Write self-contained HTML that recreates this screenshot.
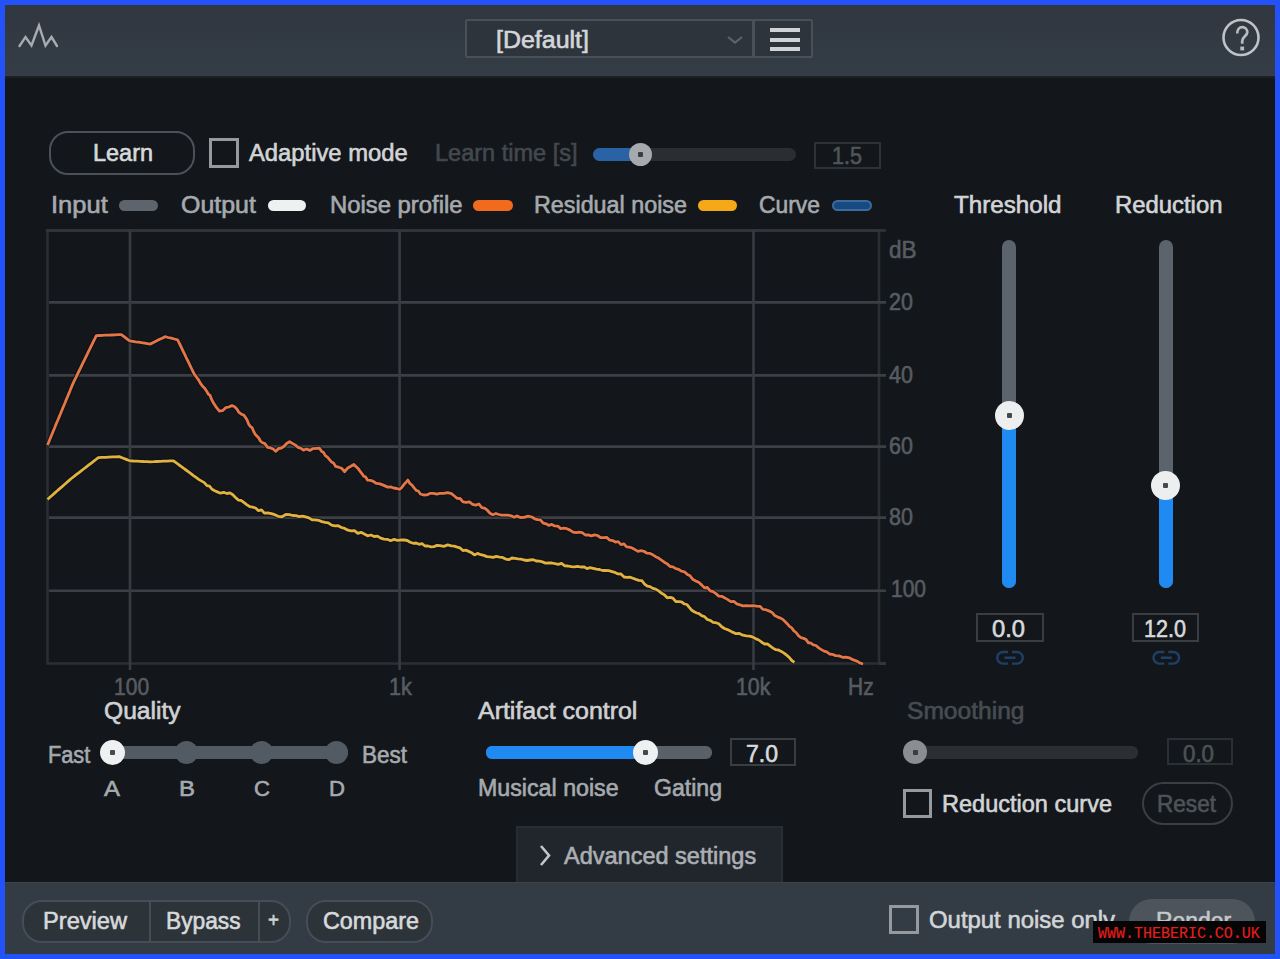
<!DOCTYPE html>
<html><head><meta charset="utf-8"><style>
html,body{margin:0;padding:0;width:1280px;height:959px;overflow:hidden;background:#2252f8}
#app{position:absolute;left:5px;top:5px;width:1270px;height:949px;background:#13171b;overflow:hidden}
.abs{position:absolute;box-sizing:content-box}
.t{position:absolute;white-space:nowrap;line-height:1;font-family:"Liberation Sans",sans-serif;transform-origin:0 0;-webkit-text-stroke:0.6px currentColor}
.knob{border-radius:50%}
.pill{border-radius:6px}
#hdr{position:absolute;left:0;top:0;width:1280px;height:75px;background:linear-gradient(#30363e,#343d47);border-bottom:1px solid #3a3d43}
#hdr:after{content:"";position:absolute;left:0;top:76px;width:1280px;height:3px;background:linear-gradient(#1f2328,#13171b)}
#ftr{position:absolute;left:0;top:882px;width:1280px;height:72px;background:#333b44;border-top:1px solid #3d4249}
</style></head><body>
<div id="root" style="position:absolute;left:0;top:0;width:1280px;height:959px;">
<div style="position:absolute;left:5px;top:5px;width:1270px;height:949px;background:#13171b"></div>
<div id="hdr"></div>
<svg class="abs" style="left:0;top:0" width="80" height="76"><polyline points="19.5,46 25.5,37 31.5,45.5 39,25.5 45.5,45.5 51.5,37 57,46" fill="none" stroke="#a6acb2" stroke-width="2.4" stroke-linejoin="miter" stroke-linecap="round"/></svg>
<div class="abs" style="left:465px;top:19px;width:344px;height:35px;border:2.5px solid #48505a;background:#2d343c;border-radius:2px"></div>
<div class="abs" style="left:752px;top:21px;width:2.5px;height:35px;background:#48505a"></div>
<div class="t" style="left:496.00px;top:28.83px;font-size:23px;color:#d4d6d9;font-weight:normal;transform:scaleX(1.0852);">[Default]</div>
<svg class="abs" style="left:720px;top:30px" width="30" height="20"><polyline points="8,7 15,12.5 22,7" fill="none" stroke="#5d636b" stroke-width="2.2"/></svg>
<div class="abs" style="left:770px;top:27.6px;width:30px;height:4px;background:#cfd2d6"></div>
<div class="abs" style="left:770px;top:37.5px;width:30px;height:4px;background:#cfd2d6"></div>
<div class="abs" style="left:770px;top:46.6px;width:30px;height:4px;background:#cfd2d6"></div>
<svg class="abs" style="left:1215px;top:12px" width="52" height="52"><circle cx="26" cy="25.5" r="17.5" fill="none" stroke="#bfc3c8" stroke-width="2.6"/></svg>
<svg class="abs" style="left:0;top:0" width="1280" height="80"><path d="M1237.2,33.5 C1237.2,29.5 1239.5,27.2 1242.2,27.2 C1245.2,27.2 1247.3,29.3 1247.3,32.3 C1247.3,35.8 1242.2,37 1242.2,41 L1242.2,43.8" fill="none" stroke="#b8bcc1" stroke-width="2.7"/><rect x="1240.3" y="46.6" width="3.8" height="3.8" fill="#b8bcc1"/></svg>
<div class="abs" style="left:49px;top:130.5px;width:142px;height:40px;border:2.5px solid #4c5157;border-radius:19px"></div>
<div class="t" style="left:93.00px;top:141.53px;font-size:23px;color:#d7d9db;font-weight:normal;transform:scaleX(1.0204);">Learn</div>
<div class="abs" style="left:209px;top:138px;width:24px;height:24px;border:3px solid #969a9e"></div>
<div class="t" style="left:249.00px;top:141.53px;font-size:23px;color:#d2d4d6;font-weight:normal;transform:scaleX(1.0339);">Adaptive mode</div>
<div class="t" style="left:435.00px;top:141.53px;font-size:23px;color:#43484e;font-weight:normal;transform:scaleX(1.0230);">Learn time [s]</div>
<div class="abs" style="left:593px;top:148px;width:203px;height:13px;border-radius:7px;background:#2a2e33"></div>
<div class="abs" style="left:593px;top:148px;width:50px;height:13px;border-radius:7px;background:#2a62a6"></div>
<div class="abs knob" style="left:628.5px;top:142.5px;width:23px;height:23px;background:#a6a9ad"></div>
<div class="abs" style="left:637.5px;top:151.5px;width:5px;height:5px;background:#3a3d42;border-radius:1px"></div>
<div class="abs" style="left:814px;top:142px;width:63px;height:23px;border:2px solid #2e3237"></div>
<div class="t" style="left:832.00px;top:144.53px;font-size:23px;color:#50555a;font-weight:normal;transform:scaleX(0.9375);">1.5</div>
<div class="t" style="left:50.70px;top:193.93px;font-size:23px;color:#a6aaae;font-weight:normal;transform:scaleX(1.1094);">Input</div>
<div class="abs pill" style="left:119px;top:200px;width:39px;height:11px;background:#5e646b"></div>
<div class="t" style="left:180.80px;top:193.93px;font-size:23px;color:#a6aaae;font-weight:normal;transform:scaleX(1.0841);">Output</div>
<div class="abs pill" style="left:267.5px;top:200px;width:38px;height:11px;background:#eef0f2"></div>
<div class="t" style="left:329.80px;top:193.93px;font-size:23px;color:#a6aaae;font-weight:normal;transform:scaleX(1.0368);">Noise profile</div>
<div class="abs pill" style="left:472.5px;top:200px;width:40px;height:11px;background:#f26a1b"></div>
<div class="t" style="left:534.00px;top:193.93px;font-size:23px;color:#a6aaae;font-weight:normal;transform:scaleX(1.0139);">Residual noise</div>
<div class="abs pill" style="left:698px;top:200px;width:39px;height:11px;background:#f5a916"></div>
<div class="t" style="left:759.00px;top:193.93px;font-size:23px;color:#a6aaae;font-weight:normal;transform:scaleX(0.9935);">Curve</div>
<div class="abs pill" style="left:832px;top:199.5px;width:36px;height:7px;border:2px solid #3c6b9c;background:#164a80"></div>
<div class="t" style="left:954.00px;top:193.53px;font-size:23px;color:#d2d4d6;font-weight:normal;transform:scaleX(1.0508);">Threshold</div>
<div class="t" style="left:1115.00px;top:193.53px;font-size:23px;color:#d2d4d6;font-weight:normal;transform:scaleX(1.0376);">Reduction</div>
<div class="abs" style="left:1002.3px;top:240px;width:14px;height:348px;border-radius:7px;background:#5b636d"></div>
<div class="abs" style="left:1002.3px;top:415.5px;width:14px;height:172.5px;border-radius:0 0 7px 7px;background:#1f8af2"></div>
<div class="abs knob" style="left:994.8px;top:401.0px;width:29px;height:29px;background:#eceef0"></div>
<div class="abs" style="left:1006.8px;top:413.0px;width:5px;height:5px;background:#45484c;border-radius:1px"></div>
<svg class="abs" style="left:0;top:0" width="1280" height="700"><path d="M1008.0,652 H1003.0 A5.8,5.8 0 0 0 1003.0,663.6 H1008.0 M1012.0,652 H1017.0 A5.8,5.8 0 0 1 1017.0,663.6 H1012.0 M1004.5,657.8 H1015.5" fill="none" stroke="#1f4064" stroke-width="2.4"/></svg>
<div class="abs" style="left:1158.6px;top:240px;width:14px;height:348px;border-radius:7px;background:#5b636d"></div>
<div class="abs" style="left:1158.6px;top:485.2px;width:14px;height:102.8px;border-radius:0 0 7px 7px;background:#1f8af2"></div>
<div class="abs knob" style="left:1151.1px;top:470.7px;width:29px;height:29px;background:#eceef0"></div>
<div class="abs" style="left:1163.1px;top:482.7px;width:5px;height:5px;background:#45484c;border-radius:1px"></div>
<svg class="abs" style="left:0;top:0" width="1280" height="700"><path d="M1164.3,652 H1159.3 A5.8,5.8 0 0 0 1159.3,663.6 H1164.3 M1168.3,652 H1173.3 A5.8,5.8 0 0 1 1173.3,663.6 H1168.3 M1160.8,657.8 H1171.8" fill="none" stroke="#1f4064" stroke-width="2.4"/></svg>
<div class="abs" style="left:976px;top:613px;width:64px;height:25px;border:2px solid #3a3e43"></div>
<div class="t" style="left:992.00px;top:617.53px;font-size:23px;color:#d8dadc;font-weight:normal;transform:scaleX(1.0312);">0.0</div>
<div class="abs" style="left:1131.5px;top:613px;width:63px;height:25px;border:2px solid #3a3e43"></div>
<div class="t" style="left:1144.00px;top:617.53px;font-size:23px;color:#d8dadc;font-weight:normal;transform:scaleX(0.9375);">12.0</div>
<div class="t" style="left:104.00px;top:700.03px;font-size:23px;color:#cfd1d3;font-weight:normal;transform:scaleX(1.0698);">Quality</div>
<div class="t" style="left:47.80px;top:743.53px;font-size:23px;color:#a6aaae;font-weight:normal;transform:scaleX(0.9441);">Fast</div>
<div class="t" style="left:362.00px;top:743.53px;font-size:23px;color:#a6aaae;font-weight:normal;transform:scaleX(0.9783);">Best</div>
<div class="abs" style="left:112px;top:746px;width:236px;height:13px;background:#525a63;border-radius:6px"></div>
<div class="abs knob" style="left:175.4px;top:741px;width:23px;height:23px;background:#525a63"></div>
<div class="abs knob" style="left:250.4px;top:741px;width:23px;height:23px;background:#525a63"></div>
<div class="abs knob" style="left:325.4px;top:741px;width:23px;height:23px;background:#525a63"></div>
<div class="abs knob" style="left:100px;top:740px;width:25px;height:25px;background:#eef0f2"></div>
<div class="abs" style="left:110px;top:750px;width:5px;height:5px;background:#45484c;border-radius:1px"></div>
<div class="t" style="left:104.00px;top:778.38px;font-size:22px;color:#a6aaae;font-weight:normal;transform:scaleX(1.0884);">A</div>
<div class="t" style="left:179.00px;top:778.38px;font-size:22px;color:#a6aaae;font-weight:normal;transform:scaleX(1.0884);">B</div>
<div class="t" style="left:254.00px;top:778.38px;font-size:22px;color:#a6aaae;font-weight:normal;transform:scaleX(1.0063);">C</div>
<div class="t" style="left:329.00px;top:778.38px;font-size:22px;color:#a6aaae;font-weight:normal;transform:scaleX(1.0063);">D</div>
<div class="t" style="left:478.30px;top:699.53px;font-size:23px;color:#cfd1d3;font-weight:normal;transform:scaleX(1.0844);">Artifact control</div>
<div class="abs" style="left:486px;top:746px;width:226px;height:13px;background:#5a6068;border-radius:6px"></div>
<div class="abs" style="left:486px;top:746px;width:160px;height:13px;background:#1f8af2;border-radius:6px 0 0 6px"></div>
<div class="abs knob" style="left:633px;top:740px;width:25px;height:25px;background:#eef0f2"></div>
<div class="abs" style="left:643px;top:750px;width:5px;height:5px;background:#45484c;border-radius:1px"></div>
<div class="abs" style="left:730px;top:738px;width:62px;height:24px;border:2px solid #3a3e43"></div>
<div class="t" style="left:746.00px;top:742.53px;font-size:23px;color:#d8dadc;font-weight:normal;transform:scaleX(1.0000);">7.0</div>
<div class="t" style="left:478.30px;top:776.53px;font-size:23px;color:#a6aaae;font-weight:normal;transform:scaleX(1.0093);">Musical noise</div>
<div class="t" style="left:653.50px;top:776.53px;font-size:23px;color:#a6aaae;font-weight:normal;transform:scaleX(1.0029);">Gating</div>
<div class="t" style="left:906.90px;top:699.53px;font-size:23px;color:#474c52;font-weight:normal;transform:scaleX(1.0682);">Smoothing</div>
<div class="abs" style="left:915px;top:746px;width:223px;height:13px;background:#2b2f34;border-radius:6px"></div>
<div class="abs knob" style="left:903px;top:740px;width:24px;height:24px;background:#8a8d91"></div>
<div class="abs" style="left:912.5px;top:750px;width:5px;height:5px;background:#3a3d42;border-radius:1px"></div>
<div class="abs" style="left:1167px;top:738px;width:62px;height:23px;border:2px solid #2c3035"></div>
<div class="t" style="left:1183.00px;top:742.53px;font-size:23px;color:#4d5257;font-weight:normal;transform:scaleX(0.9688);">0.0</div>
<div class="abs" style="left:903px;top:789px;width:23px;height:23px;border:3px solid #969a9e"></div>
<div class="t" style="left:942.00px;top:793.03px;font-size:23px;color:#d2d4d6;font-weight:normal;transform:scaleX(1.0229);">Reduction curve</div>
<div class="abs" style="left:1142px;top:782px;width:87px;height:39px;border:2.5px solid #3b3f44;border-radius:22px"></div>
<div class="t" style="left:1157.00px;top:793.03px;font-size:23px;color:#4f5358;font-weight:normal;transform:scaleX(0.9817);">Reset</div>
<div class="abs" style="left:516px;top:826px;width:263px;height:54px;background:#21262c;border:2px solid #282d33;border-bottom:none"></div>
<svg class="abs" style="left:535px;top:840px" width="24" height="30"><polyline points="6,6 14,15.5 6,25" fill="none" stroke="#c3c6ca" stroke-width="2.6"/></svg>
<div class="t" style="left:564.40px;top:844.53px;font-size:23px;color:#abafb4;font-weight:normal;transform:scaleX(1.0223);">Advanced settings</div>
<div id="ftr"></div>
<div class="abs" style="left:22px;top:900px;width:265px;height:39px;border:2.5px solid #454d56;border-radius:20px;background:#2c3339"></div>
<div class="abs" style="left:148.5px;top:902px;width:2px;height:40px;background:#454d56"></div>
<div class="abs" style="left:257.5px;top:902px;width:2px;height:40px;background:#454d56"></div>
<div class="t" style="left:42.80px;top:909.53px;font-size:23px;color:#d7d9db;font-weight:normal;transform:scaleX(1.0281);">Preview</div>
<div class="t" style="left:165.90px;top:909.53px;font-size:23px;color:#d7d9db;font-weight:normal;transform:scaleX(0.9894);">Bypass</div>
<div class="t" style="left:267.50px;top:909.57px;font-size:20px;color:#cfd2d5;font-weight:normal;transform:scaleX(0.9402);">+</div>
<div class="abs" style="left:305.5px;top:900px;width:123px;height:39px;border:2.5px solid #454d56;border-radius:20px;background:#2c3339"></div>
<div class="t" style="left:323.00px;top:909.53px;font-size:23px;color:#d7d9db;font-weight:normal;transform:scaleX(1.0148);">Compare</div>
<div class="abs" style="left:889px;top:905px;width:24px;height:23px;border:3px solid #969a9e"></div>
<div class="t" style="left:929.00px;top:908.53px;font-size:23px;color:#d2d4d6;font-weight:normal;transform:scaleX(1.0391);">Output noise only</div>
<div class="abs" style="left:1129px;top:899px;width:126px;height:45px;border-radius:23px;background:#4d545b"></div>
<div class="t" style="left:1155.80px;top:909.53px;font-size:23px;color:#c4c8cc;font-weight:normal;transform:scaleX(0.9973);">Render</div>
<div class="abs" style="left:1093px;top:921px;width:173px;height:22px;background:#050505"></div>
<div class="t" style="left:1097.60px;top:925.96px;font-size:16px;color:#e61e1e;font-weight:normal;transform:scaleX(0.9363);-webkit-text-stroke:0.15px currentColor;font-family:'Liberation Mono',monospace;">WWW.THEBERIC.CO.UK</div>
<svg class="abs" style="left:0;top:0" width="1280" height="959">
<rect x="47.5" y="230.5" width="831.5" height="433" fill="none" stroke="#2b2f34" stroke-width="2.6"/>
<line x1="46" y1="230.5" x2="886" y2="230.5" stroke="#33373c" stroke-width="2.6"/>
<line x1="49" y1="302.4" x2="886" y2="302.4" stroke="#3c4046" stroke-width="2.6"/>
<line x1="49" y1="375.4" x2="886" y2="375.4" stroke="#3c4046" stroke-width="2.6"/>
<line x1="49" y1="446.6" x2="886" y2="446.6" stroke="#3c4046" stroke-width="2.6"/>
<line x1="49" y1="517.6" x2="886" y2="517.6" stroke="#3c4046" stroke-width="2.6"/>
<line x1="49" y1="590.8" x2="886" y2="590.8" stroke="#3c4046" stroke-width="2.6"/>
<line x1="879" y1="663.5" x2="886" y2="663.5" stroke="#33373d" stroke-width="3"/>
<line x1="130" y1="231" x2="130" y2="670" stroke="#383c42" stroke-width="2.6"/>
<line x1="399.6" y1="231" x2="399.6" y2="670" stroke="#383c42" stroke-width="2.6"/>
<line x1="753.5" y1="231" x2="753.5" y2="670" stroke="#383c42" stroke-width="2.6"/>
<polyline points="47.5,499.4 49.9,497.3 52.3,495.2 54.6,493.1 57.0,491.0 59.4,488.9 61.8,486.9 64.2,484.8 66.5,482.7 68.9,480.6 71.3,478.5 73.8,476.6 76.2,474.7 78.7,472.8 81.2,470.9 83.6,469.0 86.1,467.1 88.5,465.2 91.0,463.3 93.5,461.4 95.9,459.5 98.4,457.6 101.9,457.4 105.3,457.3 108.8,457.1 112.3,456.9 115.7,456.8 119.2,456.6 122.7,458.0 126.2,459.4 129.7,460.8 133.2,461.0 136.6,461.1 140.1,461.3 143.6,461.5 147.0,461.6 150.5,461.8 153.8,461.7 157.1,461.5 160.4,461.4 163.6,461.2 166.9,461.1 170.2,460.9 173.5,460.8 176.0,462.6 178.5,464.5 181.0,466.3 183.5,468.2 186.0,470.0 188.6,471.9 191.2,473.8 193.8,475.8 196.4,477.7 199.0,479.6 201.7,481.1 204.3,482.6 206.9,485.7 209.5,486.2 212.1,489.3 214.7,490.8 217.3,491.9 220.5,493.2 223.7,492.3 226.8,493.5 230.0,492.9 232.8,494.7 235.5,497.4 238.3,500.1 241.0,500.3 243.8,502.3 246.7,504.6 249.7,506.7 252.6,507.1 255.6,508.0 258.5,510.7 261.5,509.8 264.4,513.1 267.8,512.8 271.3,513.6 274.8,514.7 278.2,516.3 282.0,516.8 285.8,514.5 289.6,514.7 292.8,515.5 296.0,515.6 299.3,516.7 302.5,516.2 305.7,516.9 308.9,517.9 312.1,519.8 315.4,519.8 318.6,520.3 321.8,521.6 325.1,522.3 328.3,522.9 331.6,525.1 334.9,525.8 338.2,525.7 341.4,527.5 344.7,528.4 348.0,530.2 351.2,530.8 354.5,530.7 357.8,533.4 361.1,532.3 364.3,534.0 367.6,535.8 370.9,535.0 374.2,536.5 377.5,536.1 380.7,538.2 384.0,539.1 387.3,539.3 390.6,540.7 394.0,539.4 397.5,540.3 400.9,540.0 404.3,540.0 407.3,540.5 410.2,542.2 413.2,543.3 416.1,543.0 419.1,544.3 422.0,543.6 425.0,546.0 428.0,546.0 431.0,546.9 434.0,546.6 437.0,545.4 440.0,545.7 443.8,546.4 447.7,544.9 451.5,545.9 454.4,546.2 457.2,547.1 460.1,547.9 462.9,550.6 465.8,550.1 468.7,551.4 471.5,552.7 474.4,554.9 477.5,553.4 480.7,554.7 483.8,555.4 486.9,556.6 490.0,556.9 493.2,557.4 496.3,556.4 499.4,557.1 502.5,557.4 505.7,559.1 508.8,559.7 511.9,558.0 514.9,558.4 518.0,558.8 521.0,559.1 524.1,560.0 527.1,560.5 530.2,560.0 533.3,559.7 536.3,561.0 539.4,561.1 542.4,561.9 545.5,563.1 548.7,562.9 551.9,563.0 555.1,563.7 558.3,564.3 561.5,563.3 564.8,565.8 568.0,566.0 571.2,566.7 574.4,566.9 577.6,566.4 580.7,567.0 583.9,566.8 587.0,568.6 590.1,567.7 593.2,568.3 596.4,569.1 599.5,569.5 602.6,570.5 605.7,570.3 608.9,570.7 612.0,571.6 615.0,572.4 618.0,573.9 621.0,574.0 624.0,577.0 627.0,577.3 629.9,577.1 632.9,578.2 635.9,579.4 638.9,580.4 641.9,580.7 644.6,584.1 647.3,586.2 650.0,586.6 652.9,588.4 655.7,589.1 658.6,590.9 661.5,593.2 664.3,594.7 667.2,597.8 670.1,597.3 672.9,598.2 675.8,601.5 678.7,601.7 681.5,601.9 684.4,604.0 686.9,604.5 689.3,607.4 691.8,610.2 694.2,611.7 696.7,613.0 699.1,613.7 701.6,615.7 704.5,616.6 707.3,619.5 710.2,620.3 713.1,622.3 715.9,622.7 718.8,623.8 721.7,626.7 724.5,628.5 727.4,629.6 730.3,631.0 733.1,632.4 736.0,633.7 739.4,633.5 742.8,635.2 746.3,635.9 749.7,636.1 753.1,637.2 756.0,638.9 758.8,640.0 761.7,642.2 764.6,644.0 767.4,643.9 770.3,646.2 773.0,648.1 775.8,649.7 778.5,650.0 781.3,651.4 784.0,653.1 786.6,655.2 789.2,657.3 791.8,660.5 794.4,662.3" fill="none" stroke="#0b0d10" stroke-opacity="0.6" stroke-width="5" stroke-linejoin="round"/>
<polyline points="47.5,499.4 49.9,497.3 52.3,495.2 54.6,493.1 57.0,491.0 59.4,488.9 61.8,486.9 64.2,484.8 66.5,482.7 68.9,480.6 71.3,478.5 73.8,476.6 76.2,474.7 78.7,472.8 81.2,470.9 83.6,469.0 86.1,467.1 88.5,465.2 91.0,463.3 93.5,461.4 95.9,459.5 98.4,457.6 101.9,457.4 105.3,457.3 108.8,457.1 112.3,456.9 115.7,456.8 119.2,456.6 122.7,458.0 126.2,459.4 129.7,460.8 133.2,461.0 136.6,461.1 140.1,461.3 143.6,461.5 147.0,461.6 150.5,461.8 153.8,461.7 157.1,461.5 160.4,461.4 163.6,461.2 166.9,461.1 170.2,460.9 173.5,460.8 176.0,462.6 178.5,464.5 181.0,466.3 183.5,468.2 186.0,470.0 188.6,471.9 191.2,473.8 193.8,475.8 196.4,477.7 199.0,479.6 201.7,481.1 204.3,482.6 206.9,485.7 209.5,486.2 212.1,489.3 214.7,490.8 217.3,491.9 220.5,493.2 223.7,492.3 226.8,493.5 230.0,492.9 232.8,494.7 235.5,497.4 238.3,500.1 241.0,500.3 243.8,502.3 246.7,504.6 249.7,506.7 252.6,507.1 255.6,508.0 258.5,510.7 261.5,509.8 264.4,513.1 267.8,512.8 271.3,513.6 274.8,514.7 278.2,516.3 282.0,516.8 285.8,514.5 289.6,514.7 292.8,515.5 296.0,515.6 299.3,516.7 302.5,516.2 305.7,516.9 308.9,517.9 312.1,519.8 315.4,519.8 318.6,520.3 321.8,521.6 325.1,522.3 328.3,522.9 331.6,525.1 334.9,525.8 338.2,525.7 341.4,527.5 344.7,528.4 348.0,530.2 351.2,530.8 354.5,530.7 357.8,533.4 361.1,532.3 364.3,534.0 367.6,535.8 370.9,535.0 374.2,536.5 377.5,536.1 380.7,538.2 384.0,539.1 387.3,539.3 390.6,540.7 394.0,539.4 397.5,540.3 400.9,540.0 404.3,540.0 407.3,540.5 410.2,542.2 413.2,543.3 416.1,543.0 419.1,544.3 422.0,543.6 425.0,546.0 428.0,546.0 431.0,546.9 434.0,546.6 437.0,545.4 440.0,545.7 443.8,546.4 447.7,544.9 451.5,545.9 454.4,546.2 457.2,547.1 460.1,547.9 462.9,550.6 465.8,550.1 468.7,551.4 471.5,552.7 474.4,554.9 477.5,553.4 480.7,554.7 483.8,555.4 486.9,556.6 490.0,556.9 493.2,557.4 496.3,556.4 499.4,557.1 502.5,557.4 505.7,559.1 508.8,559.7 511.9,558.0 514.9,558.4 518.0,558.8 521.0,559.1 524.1,560.0 527.1,560.5 530.2,560.0 533.3,559.7 536.3,561.0 539.4,561.1 542.4,561.9 545.5,563.1 548.7,562.9 551.9,563.0 555.1,563.7 558.3,564.3 561.5,563.3 564.8,565.8 568.0,566.0 571.2,566.7 574.4,566.9 577.6,566.4 580.7,567.0 583.9,566.8 587.0,568.6 590.1,567.7 593.2,568.3 596.4,569.1 599.5,569.5 602.6,570.5 605.7,570.3 608.9,570.7 612.0,571.6 615.0,572.4 618.0,573.9 621.0,574.0 624.0,577.0 627.0,577.3 629.9,577.1 632.9,578.2 635.9,579.4 638.9,580.4 641.9,580.7 644.6,584.1 647.3,586.2 650.0,586.6 652.9,588.4 655.7,589.1 658.6,590.9 661.5,593.2 664.3,594.7 667.2,597.8 670.1,597.3 672.9,598.2 675.8,601.5 678.7,601.7 681.5,601.9 684.4,604.0 686.9,604.5 689.3,607.4 691.8,610.2 694.2,611.7 696.7,613.0 699.1,613.7 701.6,615.7 704.5,616.6 707.3,619.5 710.2,620.3 713.1,622.3 715.9,622.7 718.8,623.8 721.7,626.7 724.5,628.5 727.4,629.6 730.3,631.0 733.1,632.4 736.0,633.7 739.4,633.5 742.8,635.2 746.3,635.9 749.7,636.1 753.1,637.2 756.0,638.9 758.8,640.0 761.7,642.2 764.6,644.0 767.4,643.9 770.3,646.2 773.0,648.1 775.8,649.7 778.5,650.0 781.3,651.4 784.0,653.1 786.6,655.2 789.2,657.3 791.8,660.5 794.4,662.3" fill="none" stroke="#e2b240" stroke-width="2.8" stroke-linejoin="round"/>
<polyline points="47.5,445.0 48.7,442.2 49.9,439.3 51.0,436.5 52.2,433.7 53.4,430.8 54.6,428.0 55.7,425.1 56.9,422.3 58.1,419.5 59.3,416.6 60.5,413.8 61.6,411.0 62.8,408.1 64.0,405.3 65.2,402.5 66.3,399.6 67.5,396.8 68.7,393.9 69.9,391.1 71.0,388.3 72.2,385.4 73.4,382.6 74.7,379.8 76.1,377.1 77.4,374.3 78.8,371.5 80.1,368.8 81.5,366.0 82.8,363.2 84.2,360.5 85.5,357.7 86.9,355.0 88.2,352.2 89.6,349.4 90.9,346.7 92.3,343.9 93.6,341.1 95.0,338.4 96.3,335.6 99.4,335.5 102.5,335.4 105.7,335.2 108.8,335.1 111.9,335.0 115.0,334.9 118.2,334.7 121.3,334.6 124.1,336.7 126.9,338.8 129.7,340.9 132.7,341.3 135.6,341.8 138.6,342.2 141.6,342.7 144.6,343.1 147.5,343.6 150.5,344.0 153.4,342.5 156.3,341.1 159.2,339.6 162.1,338.2 165.0,336.7 168.2,337.5 171.3,338.2 174.4,339.0 177.6,339.8 179.0,342.7 180.4,345.5 181.8,348.4 183.2,351.3 184.6,354.1 185.9,357.0 187.3,359.9 188.7,362.7 190.1,365.6 191.5,368.5 192.9,371.3 194.3,374.2 196.4,377.0 198.5,379.8 200.6,383.6 202.6,386.2 204.7,388.2 206.8,391.4 208.4,394.3 210.0,395.2 211.5,399.2 213.1,402.4 214.7,404.7 216.2,407.2 217.8,409.1 219.4,411.0 222.5,410.7 225.7,407.7 228.8,407.0 231.9,405.6 234.3,406.5 236.7,408.8 239.0,412.4 241.4,414.2 243.8,415.1 245.5,417.5 247.1,420.1 248.8,424.4 250.5,426.6 252.1,427.6 253.8,431.7 255.4,434.6 257.1,436.3 258.8,438.0 260.4,441.0 262.1,442.5 264.9,443.6 267.6,447.3 270.4,447.9 273.1,449.0 275.9,451.3 278.6,448.5 281.4,448.0 284.1,446.3 286.9,443.2 289.6,441.7 292.4,443.4 295.1,444.9 297.9,447.3 300.6,448.1 303.4,450.1 306.6,449.0 309.8,450.4 313.1,448.6 316.3,448.4 319.5,448.2 321.5,451.3 323.5,452.4 325.5,455.9 327.5,457.2 329.5,459.6 331.5,461.9 333.5,462.9 335.5,466.3 338.6,467.2 341.6,468.3 344.7,471.7 347.8,467.9 350.8,466.3 353.9,464.5 355.9,466.4 357.8,468.2 359.8,470.9 361.7,473.3 363.7,476.2 365.6,476.9 367.6,480.2 370.5,480.4 373.4,481.3 376.2,483.3 379.1,483.6 382.0,484.6 384.9,485.9 387.7,487.1 390.6,486.9 393.7,488.0 396.7,488.5 399.8,489.3 401.8,487.5 403.8,484.6 405.8,482.5 407.8,480.0 409.9,483.5 412.0,485.2 414.1,487.9 416.2,490.4 418.3,491.0 420.4,494.0 423.7,495.0 426.9,494.9 430.2,493.3 433.5,493.3 436.7,494.2 440.0,493.4 443.8,493.4 447.7,492.6 451.5,493.7 454.4,496.0 457.2,498.3 460.1,498.5 463.0,501.8 466.2,502.4 469.4,501.8 472.6,504.3 475.8,505.1 479.0,504.0 481.8,507.6 484.5,508.1 487.3,510.2 490.0,513.2 492.8,514.7 495.9,513.5 498.9,514.5 502.0,515.1 505.0,515.1 508.1,515.1 511.1,515.8 514.2,517.2 517.2,515.9 520.3,517.5 524.1,517.3 528.0,516.2 531.8,517.0 534.7,518.8 537.5,519.7 540.4,519.8 543.2,523.1 546.1,523.8 549.0,525.4 551.8,524.4 554.7,525.9 557.8,526.2 560.8,528.7 563.9,528.2 566.9,528.7 570.0,530.1 573.0,532.1 576.1,532.6 579.1,532.1 582.2,532.6 585.3,535.0 588.3,534.8 591.4,535.8 594.5,534.9 597.5,535.5 600.6,537.7 603.7,537.7 606.7,537.4 609.8,540.2 612.6,540.6 615.4,542.1 618.2,541.6 621.0,544.6 623.8,543.8 626.6,546.9 629.4,547.1 632.2,548.0 635.0,549.6 638.0,551.4 641.0,550.7 644.0,551.3 647.0,553.2 650.0,553.4 652.9,554.8 655.7,556.7 658.6,558.1 661.5,560.2 664.3,562.2 667.2,563.9 670.1,566.5 672.9,566.8 675.8,568.7 678.7,569.4 681.5,571.2 684.4,571.8 687.3,574.4 690.1,575.8 693.0,579.6 695.9,581.1 698.7,582.3 701.6,584.9 704.5,587.8 707.3,587.5 710.2,590.9 713.1,591.7 715.9,593.6 718.8,596.1 721.8,596.3 724.8,597.9 727.8,599.6 730.8,601.6 733.8,601.4 736.8,603.8 739.8,604.8 742.8,605.9 746.2,605.7 749.7,605.9 753.1,605.6 756.6,606.1 760.0,606.3 762.9,609.4 765.9,609.7 768.8,610.9 771.8,612.2 774.7,615.5 777.7,617.1 780.6,618.1 782.8,619.4 785.0,621.5 787.2,623.8 789.5,626.4 791.7,627.9 793.9,630.8 796.1,632.5 798.6,635.9 801.0,637.7 803.5,638.4 805.9,639.4 808.4,642.9 810.8,643.0 813.3,644.9 816.0,645.5 818.7,647.9 821.4,649.6 824.1,651.1 826.8,651.8 829.5,654.0 832.2,654.3 835.6,655.6 839.1,655.9 842.5,657.3 846.0,657.1 849.4,657.8 852.8,659.7 856.2,660.8 859.7,662.9 863.1,664.0" fill="none" stroke="#0b0d10" stroke-opacity="0.6" stroke-width="5" stroke-linejoin="round"/>
<polyline points="47.5,445.0 48.7,442.2 49.9,439.3 51.0,436.5 52.2,433.7 53.4,430.8 54.6,428.0 55.7,425.1 56.9,422.3 58.1,419.5 59.3,416.6 60.5,413.8 61.6,411.0 62.8,408.1 64.0,405.3 65.2,402.5 66.3,399.6 67.5,396.8 68.7,393.9 69.9,391.1 71.0,388.3 72.2,385.4 73.4,382.6 74.7,379.8 76.1,377.1 77.4,374.3 78.8,371.5 80.1,368.8 81.5,366.0 82.8,363.2 84.2,360.5 85.5,357.7 86.9,355.0 88.2,352.2 89.6,349.4 90.9,346.7 92.3,343.9 93.6,341.1 95.0,338.4 96.3,335.6 99.4,335.5 102.5,335.4 105.7,335.2 108.8,335.1 111.9,335.0 115.0,334.9 118.2,334.7 121.3,334.6 124.1,336.7 126.9,338.8 129.7,340.9 132.7,341.3 135.6,341.8 138.6,342.2 141.6,342.7 144.6,343.1 147.5,343.6 150.5,344.0 153.4,342.5 156.3,341.1 159.2,339.6 162.1,338.2 165.0,336.7 168.2,337.5 171.3,338.2 174.4,339.0 177.6,339.8 179.0,342.7 180.4,345.5 181.8,348.4 183.2,351.3 184.6,354.1 185.9,357.0 187.3,359.9 188.7,362.7 190.1,365.6 191.5,368.5 192.9,371.3 194.3,374.2 196.4,377.0 198.5,379.8 200.6,383.6 202.6,386.2 204.7,388.2 206.8,391.4 208.4,394.3 210.0,395.2 211.5,399.2 213.1,402.4 214.7,404.7 216.2,407.2 217.8,409.1 219.4,411.0 222.5,410.7 225.7,407.7 228.8,407.0 231.9,405.6 234.3,406.5 236.7,408.8 239.0,412.4 241.4,414.2 243.8,415.1 245.5,417.5 247.1,420.1 248.8,424.4 250.5,426.6 252.1,427.6 253.8,431.7 255.4,434.6 257.1,436.3 258.8,438.0 260.4,441.0 262.1,442.5 264.9,443.6 267.6,447.3 270.4,447.9 273.1,449.0 275.9,451.3 278.6,448.5 281.4,448.0 284.1,446.3 286.9,443.2 289.6,441.7 292.4,443.4 295.1,444.9 297.9,447.3 300.6,448.1 303.4,450.1 306.6,449.0 309.8,450.4 313.1,448.6 316.3,448.4 319.5,448.2 321.5,451.3 323.5,452.4 325.5,455.9 327.5,457.2 329.5,459.6 331.5,461.9 333.5,462.9 335.5,466.3 338.6,467.2 341.6,468.3 344.7,471.7 347.8,467.9 350.8,466.3 353.9,464.5 355.9,466.4 357.8,468.2 359.8,470.9 361.7,473.3 363.7,476.2 365.6,476.9 367.6,480.2 370.5,480.4 373.4,481.3 376.2,483.3 379.1,483.6 382.0,484.6 384.9,485.9 387.7,487.1 390.6,486.9 393.7,488.0 396.7,488.5 399.8,489.3 401.8,487.5 403.8,484.6 405.8,482.5 407.8,480.0 409.9,483.5 412.0,485.2 414.1,487.9 416.2,490.4 418.3,491.0 420.4,494.0 423.7,495.0 426.9,494.9 430.2,493.3 433.5,493.3 436.7,494.2 440.0,493.4 443.8,493.4 447.7,492.6 451.5,493.7 454.4,496.0 457.2,498.3 460.1,498.5 463.0,501.8 466.2,502.4 469.4,501.8 472.6,504.3 475.8,505.1 479.0,504.0 481.8,507.6 484.5,508.1 487.3,510.2 490.0,513.2 492.8,514.7 495.9,513.5 498.9,514.5 502.0,515.1 505.0,515.1 508.1,515.1 511.1,515.8 514.2,517.2 517.2,515.9 520.3,517.5 524.1,517.3 528.0,516.2 531.8,517.0 534.7,518.8 537.5,519.7 540.4,519.8 543.2,523.1 546.1,523.8 549.0,525.4 551.8,524.4 554.7,525.9 557.8,526.2 560.8,528.7 563.9,528.2 566.9,528.7 570.0,530.1 573.0,532.1 576.1,532.6 579.1,532.1 582.2,532.6 585.3,535.0 588.3,534.8 591.4,535.8 594.5,534.9 597.5,535.5 600.6,537.7 603.7,537.7 606.7,537.4 609.8,540.2 612.6,540.6 615.4,542.1 618.2,541.6 621.0,544.6 623.8,543.8 626.6,546.9 629.4,547.1 632.2,548.0 635.0,549.6 638.0,551.4 641.0,550.7 644.0,551.3 647.0,553.2 650.0,553.4 652.9,554.8 655.7,556.7 658.6,558.1 661.5,560.2 664.3,562.2 667.2,563.9 670.1,566.5 672.9,566.8 675.8,568.7 678.7,569.4 681.5,571.2 684.4,571.8 687.3,574.4 690.1,575.8 693.0,579.6 695.9,581.1 698.7,582.3 701.6,584.9 704.5,587.8 707.3,587.5 710.2,590.9 713.1,591.7 715.9,593.6 718.8,596.1 721.8,596.3 724.8,597.9 727.8,599.6 730.8,601.6 733.8,601.4 736.8,603.8 739.8,604.8 742.8,605.9 746.2,605.7 749.7,605.9 753.1,605.6 756.6,606.1 760.0,606.3 762.9,609.4 765.9,609.7 768.8,610.9 771.8,612.2 774.7,615.5 777.7,617.1 780.6,618.1 782.8,619.4 785.0,621.5 787.2,623.8 789.5,626.4 791.7,627.9 793.9,630.8 796.1,632.5 798.6,635.9 801.0,637.7 803.5,638.4 805.9,639.4 808.4,642.9 810.8,643.0 813.3,644.9 816.0,645.5 818.7,647.9 821.4,649.6 824.1,651.1 826.8,651.8 829.5,654.0 832.2,654.3 835.6,655.6 839.1,655.9 842.5,657.3 846.0,657.1 849.4,657.8 852.8,659.7 856.2,660.8 859.7,662.9 863.1,664.0" fill="none" stroke="#e47648" stroke-width="2.8" stroke-linejoin="round"/>
</svg>
<div class="t" style="left:889.20px;top:239.03px;font-size:23px;color:#575c62;font-weight:normal;transform:scaleX(0.9786);">dB</div>
<div class="t" style="left:889.20px;top:290.93px;font-size:23px;color:#575c62;font-weight:normal;transform:scaleX(0.9336);">20</div>
<div class="t" style="left:889.20px;top:363.93px;font-size:23px;color:#575c62;font-weight:normal;transform:scaleX(0.9336);">40</div>
<div class="t" style="left:889.20px;top:435.13px;font-size:23px;color:#575c62;font-weight:normal;transform:scaleX(0.9336);">60</div>
<div class="t" style="left:889.20px;top:506.13px;font-size:23px;color:#575c62;font-weight:normal;transform:scaleX(0.9336);">80</div>
<div class="t" style="left:891.00px;top:578.23px;font-size:23px;color:#575c62;font-weight:normal;transform:scaleX(0.9115);">100</div>
<div class="t" style="left:113.70px;top:675.53px;font-size:23px;color:#575c62;font-weight:normal;transform:scaleX(0.9141);">100</div>
<div class="t" style="left:388.60px;top:675.53px;font-size:23px;color:#575c62;font-weight:normal;transform:scaleX(0.9385);">1k</div>
<div class="t" style="left:735.50px;top:675.53px;font-size:23px;color:#575c62;font-weight:normal;transform:scaleX(0.9274);">10k</div>
<div class="t" style="left:848.00px;top:675.53px;font-size:23px;color:#575c62;font-weight:normal;transform:scaleX(0.9110);">Hz</div>
</div>
<div style="position:absolute;left:0;top:0;width:1280px;height:5px;background:#2252f8"></div>
<div style="position:absolute;left:0;top:954px;width:1280px;height:5px;background:#2252f8"></div>
<div style="position:absolute;left:0;top:0;width:5px;height:959px;background:#2252f8"></div>
<div style="position:absolute;left:1275px;top:0;width:5px;height:959px;background:#2252f8"></div>
</body></html>
